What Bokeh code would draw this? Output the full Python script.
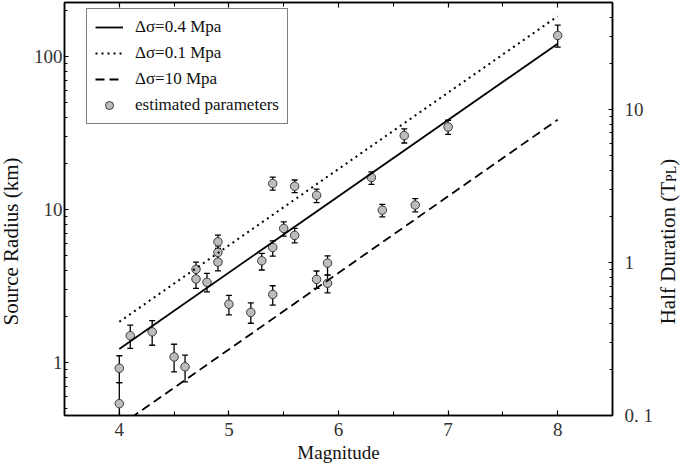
import math
from bokeh.plotting import figure
from bokeh.layouts import row
from bokeh.models import (ColumnDataSource, Whisker, TeeHead, LinearAxis, LogAxis, Range1d,
                          SingleIntervalTicker, LogTicker, LogScale, Legend, LegendItem, Label)
from bokeh.embed import file_html
from bokeh.resources import INLINE

# ---------------- data ----------------
mag = [4.0, 4.0, 4.1, 4.3, 4.5, 4.6, 4.7, 4.7, 4.8, 4.9, 4.9, 4.9, 5.0, 5.2, 5.3,
       5.4, 5.4, 5.4, 5.5, 5.6, 5.6, 5.8, 5.8, 5.9, 5.9, 6.3, 6.4, 6.6, 6.7, 7.0, 8.0]
radius = [0.92, 0.54, 1.50, 1.59, 1.09, 0.94, 4.07, 3.52, 3.35, 6.16, 5.25, 4.54, 2.41, 2.13, 4.63,
          14.8, 5.66, 2.79, 7.53, 14.2, 6.78, 12.4, 3.50, 4.47, 3.30, 16.2, 9.91, 30.4, 10.7, 34.6, 137.0]
radius_low = [0.74, 0.39, 1.24, 1.30, 0.87, 0.75, 3.62, 3.06, 2.90, 5.57, 4.75, 3.98, 2.05, 1.81, 4.03,
              13.4, 4.97, 2.38, 6.70, 12.9, 6.06, 11.1, 3.06, 3.73, 2.86, 14.6, 8.96, 27.2, 9.66, 31.0, 115.0]
radius_high = [1.11, 0.74, 1.76, 1.88, 1.32, 1.12, 4.54, 3.95, 3.83, 6.81, 5.80, 5.10, 2.75, 2.46, 5.17,
               16.3, 6.25, 3.18, 8.32, 15.6, 7.53, 13.6, 3.97, 4.99, 3.73, 17.6, 10.8, 33.6, 11.8, 38.3, 160.0]

line_mag = [4.0, 8.0]
radius_04 = [1.23, 121.0]    # stress drop 0.4 MPa
radius_01 = [1.85, 183.0]    # stress drop 0.1 MPa
radius_10 = [0.386, 38.6]    # stress drop 10 MPa

legend_labels = ["Δσ=0.4 Mpa", "Δσ=0.1 Mpa", "Δσ=10 Mpa", "estimated parameters"]
left_tick_labels = {1: "1", 10: "10", 100: "100"}
right_tick_labels = {0.1: "0. 1", 1: "1", 10: "10"}
x_label = "Magnitude"
left_label = "Source Radius (km)"
right_label_main = "Half Duration (T"
right_label_sub = "PL"
right_label_end = ")"

# ---------------- layout constants ----------------
FONT = "Liberation Serif"
H = 468
LEFT_W, MAIN_W, RIGHT_W = 30, 626, 29
MB_L, MB_R, MB_T, MB_B = 34, 41, 2, 53
TITLE_PX, SUB_PX = 21, 14
TITLE_CENTER_FROM_BOTTOM = 174

# ---------------- main figure ----------------
p = figure(width=MAIN_W, height=H, x_range=Range1d(3.5, 8.5), y_range=Range1d(0.452, 225),
           y_axis_type="log", output_backend="svg", toolbar_location=None,
           min_border_left=MB_L, min_border_right=MB_R, min_border_top=MB_T,
           min_border_bottom=MB_B)
p.extra_y_ranges = {"right": Range1d(0.1, 49.8)}
p.extra_y_scales = {"right": LogScale()}
p.grid.visible = False
p.outline_line_color = "black"
p.outline_line_width = 1.5
p.background_fill_color = "white"
p.border_fill_color = "white"

def style_axis(ax, tick_in=5, minor_in=4):
    ax.axis_line_color = "black"
    ax.axis_line_width = 1.5
    ax.major_tick_line_color = "black"
    ax.minor_tick_line_color = "black"
    ax.major_tick_line_width = 1.2
    ax.minor_tick_line_width = 1.0
    ax.major_tick_in = tick_in
    ax.major_tick_out = 0
    ax.minor_tick_in = minor_in
    ax.minor_tick_out = 0
    ax.major_label_text_font = FONT
    ax.major_label_text_font_size = "19px"
    ax.major_label_text_color = "#333333"
    ax.axis_label_text_font = FONT
    ax.axis_label_text_font_style = "normal"
    ax.axis_label_text_color = "#111111"

xa = p.xaxis[0]
xa.ticker = SingleIntervalTicker(interval=1, num_minor_ticks=2)
style_axis(xa, 5, 4)
xa.axis_label = x_label
xa.axis_label_text_font_size = "19px"
xa.major_label_standoff = 7
xa.axis_label_standoff = 3

top = LinearAxis(ticker=SingleIntervalTicker(interval=1, num_minor_ticks=2))
style_axis(top, 5, 4)
top.major_label_overrides = {4: "", 5: "", 6: "", 7: "", 8: ""}
top.major_label_standoff = 0
p.add_layout(top, "above")

ya = p.yaxis[0]
ya.ticker = LogTicker(num_minor_ticks=10)
style_axis(ya, 4, 3)
ya.major_label_overrides = left_tick_labels
ya.major_label_standoff = 2

ra = LogAxis(y_range_name="right", ticker=LogTicker(num_minor_ticks=10))
style_axis(ra, 4, 3)
ra.major_label_overrides = right_tick_labels
ra.major_label_standoff = 12
p.add_layout(ra, "right")

# ---------------- marks ----------------
src = ColumnDataSource(dict(mag=mag, radius=radius, lower=radius_low, upper=radius_high))
whisk = Whisker(source=src, base="mag", upper="upper", lower="lower", dimension="height",
                line_color="black", line_width=1.3,
                upper_head=TeeHead(size=6, line_color="black", line_width=1.3),
                lower_head=TeeHead(size=6, line_color="black", line_width=1.3))
p.add_layout(whisk)

r_pts = p.scatter("mag", "radius", source=src, size=8.5, fill_color="#bcbcbc",
                  line_color="#3a3a3a", line_width=1.0)

r_04 = p.line(line_mag, radius_04, line_color="black", line_width=1.8)
r_01 = p.line(line_mag, radius_01, line_color="black", line_width=2.0, line_dash="2 4")
r_10 = p.line(line_mag, radius_10, line_color="black", line_width=1.8, line_dash="9 5")

legend = Legend(items=[LegendItem(label=legend_labels[0], renderers=[r_04]),
                       LegendItem(label=legend_labels[1], renderers=[r_01]),
                       LegendItem(label=legend_labels[2], renderers=[r_10]),
                       LegendItem(label=legend_labels[3], renderers=[r_pts])],
                location=(22, 291), margin=0, padding=8, spacing=6,
                glyph_width=28, glyph_height=20, label_height=20, label_standoff=12,
                label_text_font=FONT, label_text_font_size="17px", label_text_color="#111111",
                border_line_color="black", border_line_width=1.5,
                background_fill_color="white", background_fill_alpha=1.0)
p.add_layout(legend)

# ---------------- side strips holding the rotated axis titles ----------------
def title_strip(width):
    s = figure(width=width, height=H, x_range=Range1d(0, 1), y_range=Range1d(0, 1),
               output_backend="svg", toolbar_location=None, title=None,
               x_axis_location=None, y_axis_location=None,
               min_border_left=0, min_border_right=0, min_border_top=0, min_border_bottom=0)
    s.grid.visible = False
    s.outline_line_color = None
    s.background_fill_color = "white"
    s.border_fill_color = "white"
    return s

left_strip = title_strip(LEFT_W)
left_strip.add_layout(Label(x=10, y=TITLE_CENTER_FROM_BOTTOM, x_units="screen", y_units="screen",
                            text=left_label, angle=math.pi / 2, text_align="center",
                            text_baseline="alphabetic", text_font=FONT,
                            text_font_size=f"{TITLE_PX}px", text_color="#111111"))

times_w = {"H": .722, "a": .444, "l": .278, "f": .333, " ": .25, "D": .722, "u": .5, "r": .333,
           "t": .278, "i": .278, "o": .5, "n": .5, "(": .333, ")": .333, "T": .611, "P": .556, "L": .611}
def tw(s, px):
    return sum(times_w.get(c, .5) for c in s) * px

right_strip = title_strip(RIGHT_W)
w_main = tw(right_label_main, TITLE_PX)
w_sub = tw(right_label_sub, SUB_PX)
w_end = tw(right_label_end, TITLE_PX)
y0 = TITLE_CENTER_FROM_BOTTOM - (w_main + w_sub + w_end) / 2
rx = 11
for txt, yy, xx, fs in [(right_label_main, y0, rx, TITLE_PX),
                        (right_label_sub, y0 + w_main, rx + 4, SUB_PX),
                        (right_label_end, y0 + w_main + w_sub, rx, TITLE_PX)]:
    right_strip.add_layout(Label(x=xx, y=yy, x_units="screen", y_units="screen", text=txt,
                                 angle=math.pi / 2, text_align="left", text_baseline="alphabetic",
                                 text_font=FONT, text_font_size=f"{fs}px", text_color="#111111"))

layout = row(left_strip, p, right_strip, spacing=0)
open("out.html", "w").write(file_html(layout, INLINE))
